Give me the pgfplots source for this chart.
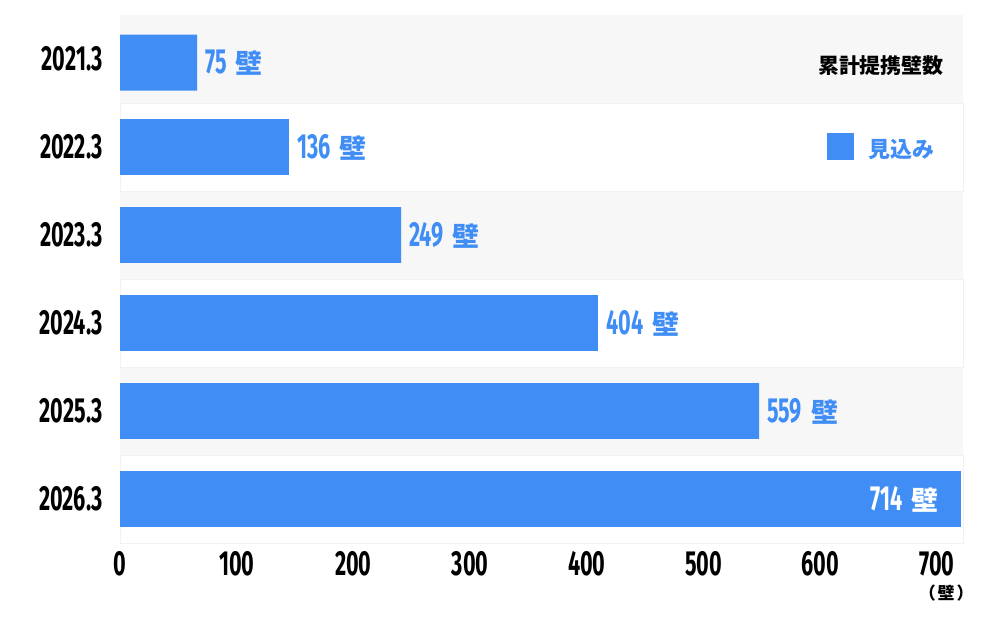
\documentclass[border=0pt]{standalone}
\usepackage{pgfplots}
\pgfplotsset{compat=1.18}
\usepackage{fontspec}
\newfontfamily\numfont{Fira Sans}[FakeStretch=0.62]
\newfontfamily\cjk{Noto Sans CJK JP}
\definecolor{barblue}{RGB}{64,142,245}
\definecolor{bandgray}{RGB}{247,247,247}
\definecolor{bandline}{RGB}{241,241,241}
\begin{document}
\begin{tikzpicture}
\path[use as bounding box] (0,0) rectangle (1000bp,630bp);
\begin{axis}[
  at={(120bp,87bp)}, anchor=south west,
  scale only axis, width=843bp, height=528bp,
  xmin=0, xmax=722.4, ymin=-0.5, ymax=5.5, y dir=reverse,
  clip=false,
  axis line style={draw=none}, major tick length=0pt,
  xtick={0,100,...,700},
  ytick={0,...,5},
  yticklabels={2021.3,2022.3,2023.3,2024.3,2025.3,2026.3},
  /pgf/number format/assume math mode=true,
  tick label style={font=\numfont\bfseries\fontsize{35}{35}\selectfont, text=black},
  xticklabel style={inner sep=0pt, anchor=north, yshift=-8bp},
  yticklabel style={inner sep=0pt, anchor=east, xshift=-17bp},
  legend style={at={(0.8387,0.751)}, anchor=west, draw=none, fill=none,
    inner sep=0pt, column sep=14bp,
    nodes={inner sep=0pt, font=\cjk\bfseries\fontsize{22}{22}\selectfont, text=barblue, yshift=5bp}},
  legend image code/.code={\fill[barblue] (0bp,-5.8bp) rectangle (27bp,21.2bp);},
]
% background bands
\addplot[xbar, bar width=1, bar shift=0pt, fill=bandgray, draw=none, forget plot]
  coordinates {(722.4,0) (722.4,2) (722.4,4)};
\addplot[xbar, bar width=1, bar shift=0pt, fill=white, draw=bandline, forget plot]
  coordinates {(722.4,1) (722.4,3) (722.4,5)};
% bars
\addplot[xbar, bar width=0.636, bar shift=0pt, fill=barblue, draw=none,
  point meta=explicit symbolic,
  nodes near coords={\numfont\bfseries\fontsize{35}{35}\selectfont\pgfplotspointmeta\hspace{9bp}{\cjk\bfseries\fontsize{27}{27}\selectfont 壁}},
  nodes near coords style={anchor=west, inner sep=0pt, xshift=8bp, text=barblue}]
  coordinates {(66,0.04) [75] (144.8,1) [136] (240.8,2) [249] (409.6,3) [404] (547.6,4) [559]};
\addlegendentry{見込み}
\addplot[xbar, bar width=0.636, bar shift=0pt, fill=barblue, draw=none, forget plot,
  point meta=explicit symbolic,
  nodes near coords={\numfont\bfseries\fontsize{35}{35}\selectfont\pgfplotspointmeta\hspace{9bp}{\cjk\bfseries\fontsize{27}{27}\selectfont 壁}},
  nodes near coords style={anchor=east, inner sep=0pt, xshift=-22bp, text=white}]
  coordinates {(720.6,5) [714]};
\node[font=\cjk\bfseries\fontsize{21}{21}\selectfont, text=black, inner sep=0pt] at (axis cs:652,0.08) {累計提携壁数};
\node[font=\cjk\bfseries\fontsize{17}{17}\selectfont, text=black, inner sep=0pt, text height=12bp, text depth=1bp] at (axis cs:708,5.5) [yshift=-51bp] {（\hspace{2bp}壁\hspace{2bp}）};
\end{axis}
\end{tikzpicture}
\end{document}
